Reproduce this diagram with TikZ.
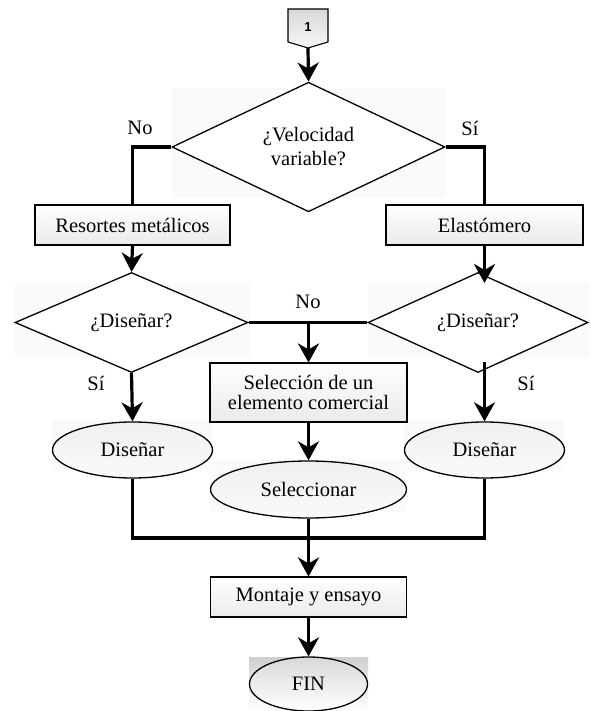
\documentclass[tikz,border=0pt]{standalone}
\usepackage{fontspec}
\setmainfont{Liberation Serif}
\newfontfamily\labelsans{Liberation Sans}
\usetikzlibrary{shapes.geometric,arrows.meta}

\tikzset{
  flow/.style={line width=3.2pt},
  arr/.style={flow,-{Stealth[length=19pt 0,width=21pt 0,inset=6pt]}},
  procbox/.style={draw,line width=1.1pt,rectangle,inner sep=0pt,
    top color=white,bottom color=gray!16,font=\fontsize{20.5}{22}\selectfont,align=center},
  decision/.style={draw,line width=1.3pt,diamond,inner sep=0pt,fill=white,
    font=\fontsize{20.5}{24}\selectfont,align=center},
  terminal/.style={draw,line width=1.3pt,ellipse,inner sep=0pt,
    top color=gray!12,bottom color=gray!4,font=\fontsize{20.5}{22}\selectfont},
  tag/.style={font=\fontsize{20.5}{22}\selectfont,inner sep=0pt},
  haze/.style={fill=gray!4,draw=none}
}

\begin{document}
\begin{tikzpicture}[x=1pt,y=-1pt]
\useasboundingbox (0,0) rectangle (590,711);

% faint panels behind the decision and ellipse symbols
\fill[haze] (172,88) rectangle (445,198);
\fill[haze] (15,283) rectangle (250,357);
\fill[haze] (368,283) rectangle (590,357);
\fill[haze] (52,420) rectangle (212,470);
\fill[haze] (404,420) rectangle (564,470);
\fill[haze] (210,460) rectangle (406,512);
\shade[top color=gray!38,bottom color=white] (249,657) rectangle (368,711);

% off-page connector
\shade[draw,line width=1.1pt,top color=gray!30,bottom color=gray!6]
  (288,9) -- (328,9) -- (328,42) -- (308,48) -- (288,42) -- cycle;
\node[font=\labelsans\bfseries\fontsize{13}{13}\selectfont] (c1) at (308,27) {1};
\coordinate (c1b) at (308,48);

% symbols
\node[decision,minimum width=273pt,minimum height=117pt] (d1) at (308.5,147) {¿Velocidad\\variable?};
\node[procbox,minimum width=195pt,minimum height=40pt] (b1) at (132.5,225) {Resortes metálicos};
\node[procbox,minimum width=197pt,minimum height=40pt] (b2) at (484.5,225) {Elastómero};
\node[decision,minimum width=233pt,minimum height=79pt] (d2) at (131.5,322.5) {¿Diseñar?};
\node[decision,minimum width=220pt,minimum height=79pt] (d3) at (478,322.5) {¿Diseñar?};
\node[procbox,minimum width=197pt,minimum height=59pt] (b3) at (308.5,392.5) {Selección de un\\[-2pt]elemento comercial};
\node[terminal,minimum width=160pt,minimum height=56pt] (e1) at (132.5,450) {Diseñar};
\node[terminal,minimum width=160pt,minimum height=56pt] (e2) at (484.5,450) {Diseñar};
\node[terminal,minimum width=196pt,minimum height=57pt] (e3) at (308.5,489.5) {Seleccionar};
\node[procbox,minimum width=196pt,minimum height=40pt] (b4) at (308.5,597) {Montaje y ensayo};
\node[terminal,top color=gray!30,bottom color=white,minimum width=118pt,minimum height=54pt] (fin) at (308.5,684) {FIN};

% branch labels
\node[tag] (lno1) at (140,128) {No};
\node[tag] (lsi1) at (470,128) {Sí};
\node[tag] (lno2) at (308,302) {No};
\node[tag] (lsi2) at (96,383) {Sí};
\node[tag] (lsi3) at (526,383) {Sí};

% connectors
\draw[arr] (c1b) -- (d1.north);
\draw[flow] (d1.west) -| (b1.north);
\draw[flow] (d1.east) -| (b2.north);
\draw[arr] (b1.south) -- (d2.north);
\draw[arr] (b2.south) -- (484.5,283);
\draw[flow] (d2.east) -- (d3.west);
\coordinate (split) at (308.5,322.5);
\draw[arr] (split) -- (b3.north);
\draw[arr] (d2.south) -- (e1.north);
\draw[arr] (484.5,362) -- (e2.north);
\draw[arr] (b3.south) -- (e3.north);
\coordinate (join) at (308.5,538);
\draw[flow] (e1.south) |- (join) -| (e2.south);
\draw[flow] (e3.south) -- (join);
\draw[arr] (join) -- (b4.north);
\draw[arr] (b4.south) -- (fin.north);
\end{tikzpicture}
\end{document}
